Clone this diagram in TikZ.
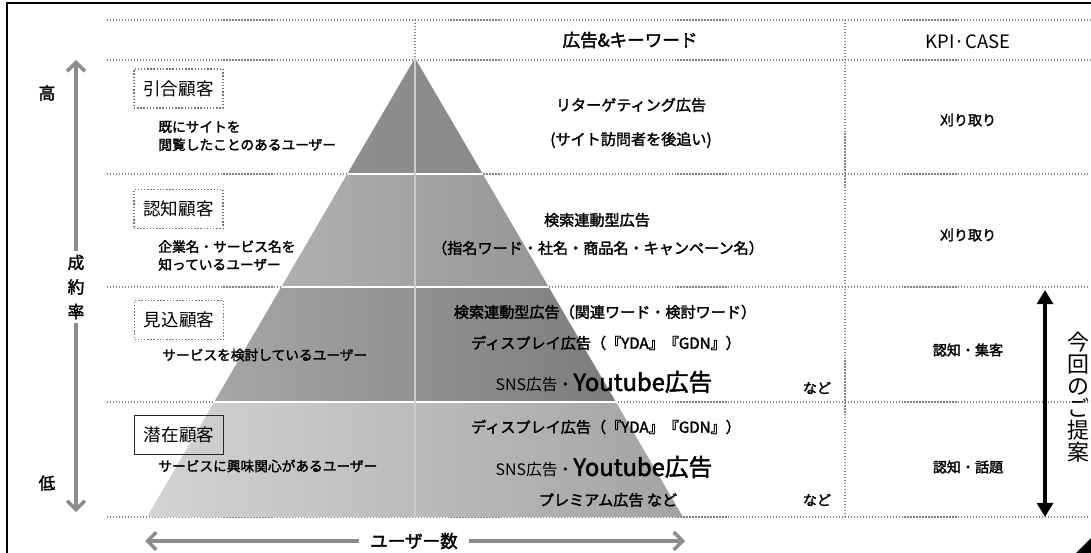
\documentclass[tikz,border=0pt]{standalone}
\usepackage{fontspec}
\setmainfont{Noto Sans CJK JP}[AutoFakeBold=2]
\usetikzlibrary{arrows.meta}

\begin{document}
\begin{tikzpicture}[x=0.02cm,y=-0.02cm,
tline/.style={black!50,densely dotted,line width=0.7pt},
kbox/.style={draw=black!55,densely dotted,line width=0.8pt,minimum width=1.78cm,minimum height=0.78cm,inner sep=0pt,font=\fontsize{10}{12}\selectfont},
desc/.style={anchor=west,align=left,inner sep=0pt,font=\bfseries\fontsize{7.8}{10.2}\selectfont},
adtxt/.style={inner sep=0pt,font=\bfseries\fontsize{8.6}{10}\selectfont},
kpitxt/.style={inner sep=0pt,font=\bfseries\fontsize{8}{10}\selectfont},
garrow/.style={black!45,line width=2pt,-{Straight Barb[length=5pt,width=10pt]}},
barrow/.style={black,line width=2pt,{Triangle[length=8pt,width=9pt]}-{Triangle[length=8pt,width=9pt]}}]
\useasboundingbox (0,0) rectangle (1091,553);
\draw[line width=1.2pt] (7,553)--(7,3)--(1091,3);
\draw[tline] (107,20)--(1091,20);\draw[tline] (107,60)--(1091,60);
\draw[tline] (107,174)--(1088,174);\draw[tline] (107,287)--(1088,287);\draw[tline] (107,402)--(1088,402);\draw[tline] (107,517)--(1088,517);
\draw[tline] (415,20)--(415,517);\draw[tline] (845,20)--(845,517);
\begin{scope}
\clip (415,58)--(683,517)--(147,517)--cycle;
\shade[left color=black!42,right color=black!48] (147,58) rectangle (683,174);
\shade[left color=black!26,right color=black!46] (147,174) rectangle (683,287);
\shade[left color=black!32,right color=black!54] (147,287) rectangle (683,402);
\shade[left color=black!17,right color=black!36] (147,402) rectangle (683,517);
\draw[white,line width=1pt] (147,174)--(683,174) (147,287)--(683,287) (147,402)--(683,402);
\draw[white!80!black,line width=0.8pt] (415,58)--(415,517);
\end{scope}
\node[font=\bfseries\fontsize{9.5}{12}\selectfont] (hi) at (47,93){高};\node[font=\bfseries\fontsize{9.5}{12}\selectfont] (lo) at (47,483){低};
\node[align=center,inner sep=2pt,font=\bfseries\fontsize{9.5}{14}\selectfont] (rate) at (76,287){成\\約\\率};
\coordinate (rtop) at (76,60);\coordinate (rbot) at (76,512);
\draw[garrow] (rate)--(rtop);\draw[garrow] (rate)--(rbot);
\node[kbox] (b1) at (178.5,88.5){引合顧客};\node[kbox] (b2) at (178.5,209){認知顧客};
\node[kbox] (b3) at (179,320){見込顧客};\node[kbox,draw=black!85,solid] (b4) at (179,435){潜在顧客};
\node[desc] (d1) at (158,136){既にサイトを\\閲覧したことのあるユーザー};
\node[desc] (d2) at (158,255.5){企業名・サービス名を\\知っているユーザー};
\node[desc] (d3) at (162,355){サービスを検討しているユーザー};
\node[desc] (d4) at (158,466){サービスに興味関心があるユーザー};
\node[font=\bfseries\fontsize{10}{12}\selectfont,inner sep=6pt] (users) at (414,541){ユーザー数};
\coordinate (uleft) at (145,541);\coordinate (uright) at (685,541);
\draw[garrow] (users)--(uleft);\draw[garrow] (users)--(uright);
\node[font=\bfseries\fontsize{10}{12}\selectfont] (h1) at (630,40){広告\&キーワード};
\node[font=\fontsize{10.5}{12}\selectfont] (h2) at (968,42){KPI·CASE};
\node[adtxt] (a1) at (631,105){リターゲティング広告};\node[adtxt] (a2) at (631,140){(サイト訪問者を後追い)};
\node[adtxt] (a3) at (597,220){検索連動型広告};\node[adtxt] (a4) at (598,248){（指名ワード・社名・商品名・キャンペーン名）};
\node[adtxt] (a5) at (605,312){検索連動型広告（関連ワード・検討ワード）};
\node[adtxt] (a6) at (606,343){ディスプレイ広告（『YDA』『GDN』）};
\node[inner sep=0pt,font=\fontsize{9}{10}\selectfont] (a7) at (604,382){SNS広告・{\bfseries\fontsize{13.5}{14}\selectfont Youtube広告}};
\node[adtxt] (a8) at (606,427){ディスプレイ広告（『YDA』『GDN』）};
\node[inner sep=0pt,font=\fontsize{9}{10}\selectfont] (a9) at (604,467){SNS広告・{\bfseries\fontsize{13.5}{14}\selectfont Youtube広告}};
\node[adtxt] (a10) at (608,500){プレミアム広告 など};
\node[kpitxt] (n1) at (817,388){など};\node[kpitxt] (n2) at (817,500){など};
\node[kpitxt] (k1) at (968,120){刈り取り};\node[kpitxt] (k2) at (968,235){刈り取り};
\node[kpitxt] (k3) at (968,350){認知・集客};\node[kpitxt] (k4) at (968,467){認知・話題};
\coordinate (ptop) at (1045,290);\coordinate (pbot) at (1045,517);
\draw[barrow] (ptop)--(pbot);
\node[align=center,inner sep=0pt,font=\fontsize{12.5}{12.6}\selectfont] (prop) at (1078,405.5){\smash{今}\\\smash{回}\\\smash{の}\\\smash{ご}\\\smash{提}\\\smash{案}};
\fill (1076,553)--(1091,538)--(1091,553)--cycle;
\end{tikzpicture}
\end{document}
